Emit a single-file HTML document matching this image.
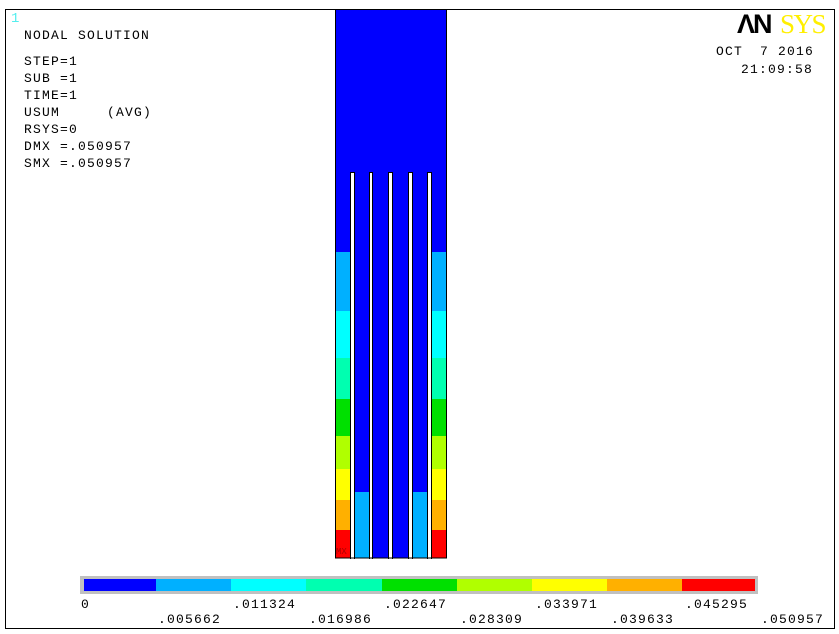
<!DOCTYPE html>
<html><head><style>
html,body{margin:0;padding:0;background:#fff;}
svg{display:block;}
text{font-family:"Liberation Mono","Courier New",monospace;font-size:13px;fill:#000;letter-spacing:1.2px;}
</style></head><body>
<svg width="839" height="634" viewBox="0 0 839 634" xmlns="http://www.w3.org/2000/svg">
<rect x="5.5" y="9.5" width="829" height="619" fill="#fff" stroke="#000" stroke-width="1"/>
<text x="11" y="22" style="fill:#5ee;font-size:14px;">1</text>
<text x="24" y="39">NODAL SOLUTION</text>
<text x="24" y="65">STEP=1</text>
<text x="24" y="82">SUB =1</text>
<text x="24" y="99">TIME=1</text>
<text x="24" y="116">USUM</text>
<text x="107" y="116">(AVG)</text>
<text x="24" y="133">RSYS=0</text>
<text x="24" y="150">DMX =.050957</text>
<text x="24" y="167">SMX =.050957</text>
<text x="737" y="33" style="font-family:'Liberation Sans',sans-serif;font-weight:bold;font-size:27px;letter-spacing:-2px;">ΛN</text>
<text x="780" y="33" style="font-family:'Liberation Serif',serif;font-size:27px;fill:#ffef00;letter-spacing:-1.5px;">SYS</text>
<text x="716" y="55">OCT</text>
<text x="760" y="55">7 2016</text>
<text x="741" y="73">21:09:58</text>

<!-- structure -->
<rect x="335" y="9" width="112" height="549" fill="#0000ff"/>
<g>
<rect x="336" y="252" width="15" height="59" fill="#00b0ff"/><rect x="432" y="252" width="14" height="59" fill="#00b0ff"/>
<rect x="336" y="311" width="15" height="47" fill="#00ffff"/><rect x="432" y="311" width="14" height="47" fill="#00ffff"/>
<rect x="336" y="358" width="15" height="41" fill="#00ffb0"/><rect x="432" y="358" width="14" height="41" fill="#00ffb0"/>
<rect x="336" y="399" width="15" height="37" fill="#00e000"/><rect x="432" y="399" width="14" height="37" fill="#00e000"/>
<rect x="336" y="436" width="15" height="33" fill="#b0ff00"/><rect x="432" y="436" width="14" height="33" fill="#b0ff00"/>
<rect x="336" y="469" width="15" height="31" fill="#ffff00"/><rect x="432" y="469" width="14" height="31" fill="#ffff00"/>
<rect x="336" y="500" width="15" height="30" fill="#ffb000"/><rect x="432" y="500" width="14" height="30" fill="#ffb000"/>
<rect x="336" y="530" width="15" height="28" fill="#ff0000"/><rect x="432" y="530" width="14" height="28" fill="#ff0000"/>
<rect x="355" y="492" width="15" height="66" fill="#00b0ff"/>
<rect x="413" y="492" width="15" height="66" fill="#00b0ff"/>
</g>
<g fill="#fff" stroke="#000" stroke-width="1">
<rect x="350.5" y="172.5" width="4" height="387"/>
<rect x="369.5" y="172.5" width="3" height="387"/>
<rect x="388.5" y="172.5" width="4" height="387"/>
<rect x="408.5" y="172.5" width="4" height="387"/>
<rect x="427.5" y="172.5" width="4" height="387"/>
</g>
<rect x="335.5" y="9.5" width="111" height="548.5" fill="none" stroke="#000" stroke-width="1"/>
<rect x="349" y="559" width="84" height="3" fill="#fff"/>
<text x="336" y="554" style="font-size:9px;fill:#a00;letter-spacing:0;">MX</text>

<!-- colorbar -->
<rect x="80" y="576" width="678" height="18" fill="#c0c0c0"/>
<rect x="84" y="579" width="72" height="12" fill="#0000ff"/>
<rect x="156" y="579" width="75" height="12" fill="#00b0ff"/>
<rect x="231" y="579" width="75" height="12" fill="#00ffff"/>
<rect x="306" y="579" width="76" height="12" fill="#00ffb0"/>
<rect x="382" y="579" width="75" height="12" fill="#00e000"/>
<rect x="457" y="579" width="75" height="12" fill="#b0ff00"/>
<rect x="532" y="579" width="75" height="12" fill="#ffff00"/>
<rect x="607" y="579" width="75" height="12" fill="#ffb000"/>
<rect x="682" y="579" width="73" height="12" fill="#ff0000"/>
<text x="81" y="608">0</text>
<text x="233" y="608">.011324</text>
<text x="384" y="608">.022647</text>
<text x="535" y="608">.033971</text>
<text x="685" y="608">.045295</text>
<text x="158" y="623">.005662</text>
<text x="309" y="623">.016986</text>
<text x="460" y="623">.028309</text>
<text x="611" y="623">.039633</text>
<text x="761" y="623">.050957</text>
</svg>
</body></html>
